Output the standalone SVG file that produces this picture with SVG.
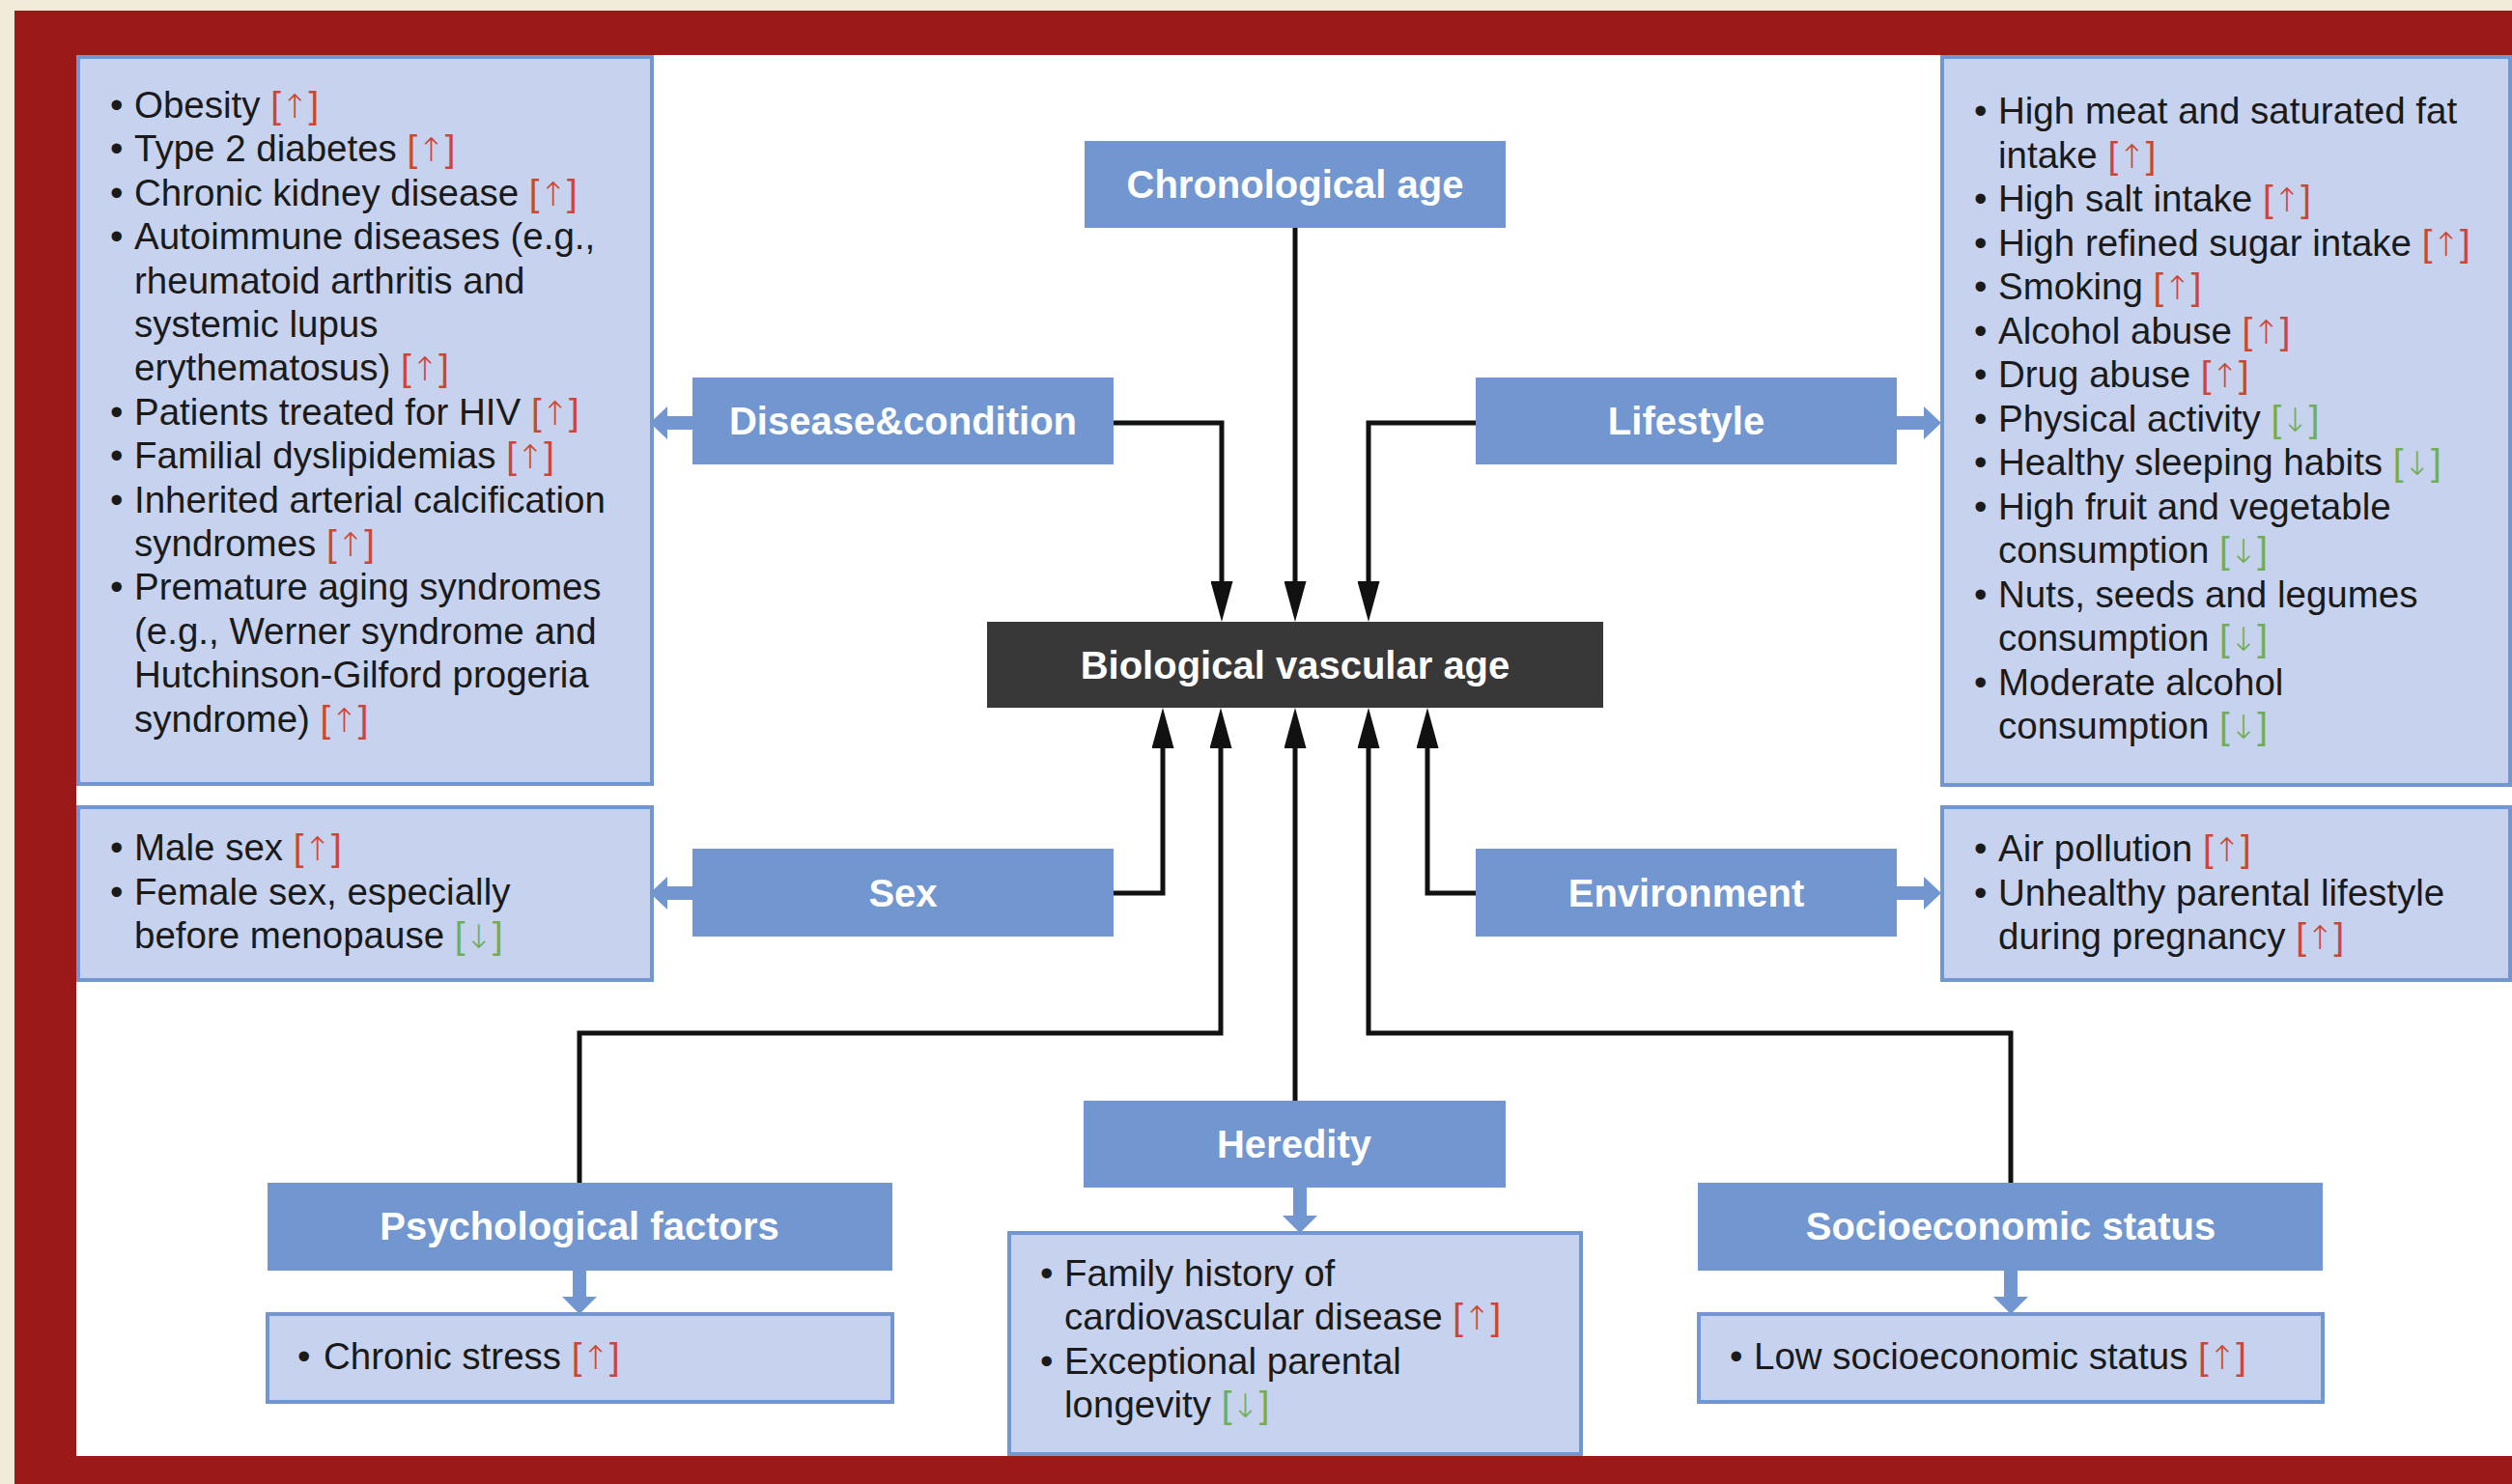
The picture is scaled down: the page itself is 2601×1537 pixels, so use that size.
<svg xmlns="http://www.w3.org/2000/svg" width="2601" height="1537" viewBox="0 0 2601 1537">
<defs>
<style>
.t{font-family:"Liberation Sans",Arial,sans-serif;font-size:38.5px;fill:#1a1a1a}
.h{font-family:"Liberation Sans",Arial,sans-serif;font-size:40px;font-weight:bold;fill:#ffffff;text-anchor:middle}
.r{fill:#cd4634}
.g{fill:#6fae55}
.ar{font-family:"DejaVu Sans",sans-serif;font-size:34px;font-weight:200}
.hdr{fill:#7196d0}
.lst{fill:#c6d2ee;stroke:#7196d0;stroke-width:4}
.bio{fill:#383838}
.ln{fill:none;stroke:#111111;stroke-width:5;marker-end:url(#ah)}
.ba{fill:#7196d0}
</style>
<marker id="ah" viewBox="0 0 42 23" refX="0" refY="11.5" markerWidth="42" markerHeight="23" markerUnits="userSpaceOnUse" orient="auto">
<path d="M0,0 L42,11.5 L0,23 Z" fill="#111111"/>
</marker>
</defs>

<g id="background">
<rect x="0" y="0" width="2601" height="1537" fill="#f3ebda"/>
<rect x="15" y="11" width="2586" height="1526" fill="#9b1a17"/>
<rect x="79" y="57" width="2522" height="1451" fill="#ffffff"/>
</g>

<g id="connectors">
<path class="ln" d="M1341,236 V602"/>
<path class="ln" d="M1153,438 H1265 V602"/>
<path class="ln" d="M1528,438 H1417 V602"/>
<path class="ln" d="M1153,925 H1204 V775"/>
<path class="ln" d="M1528,925 H1478 V775"/>
<path class="ln" d="M600,1225 V1070 H1264 V775"/>
<path class="ln" d="M1341,1140 V775"/>
<path class="ln" d="M2082,1225 V1070 H1417 V775"/>
<path class="ba" d="M718,431 H691 V421 L673,438 L691,455 V445 H718 Z"/>
<path class="ba" d="M718,918 H691 V908 L673,925 L691,942 V932 H718 Z"/>
<path class="ba" d="M1963,431 H1992 V421 L2010,438 L1992,455 V445 H1963 Z"/>
<path class="ba" d="M1963,918 H1992 V908 L2010,925 L1992,942 V932 H1963 Z"/>
<path class="ba" d="M1339,1229 V1259 H1328 L1346,1277 L1364,1259 H1353 V1229 Z"/>
<path class="ba" d="M593,1315 V1343 H582 L600,1361 L618,1343 H607 V1315 Z"/>
<path class="ba" d="M2075,1315 V1343 H2064 L2082,1361 L2100,1343 H2089 V1315 Z"/>
</g>

<g id="chronological-age">
<rect class="hdr" x="1123" y="146" width="436" height="90"/>
<text class="h" x="1341" y="205">Chronological age</text>
</g>

<g id="biological-vascular-age">
<rect class="bio" x="1022" y="644" width="638" height="89"/>
<text class="h" x="1341" y="703">Biological vascular age</text>
</g>

<g id="disease-condition">
<rect class="hdr" x="717" y="391" width="436" height="90"/>
<text class="h" x="935" y="450">Disease&amp;condition</text>
</g>

<g id="sex">
<rect class="hdr" x="717" y="879" width="436" height="91"/>
<text class="h" x="935" y="939">Sex</text>
</g>

<g id="lifestyle">
<rect class="hdr" x="1528" y="391" width="436" height="90"/>
<text class="h" x="1746" y="450">Lifestyle</text>
</g>

<g id="environment">
<rect class="hdr" x="1528" y="879" width="436" height="91"/>
<text class="h" x="1746" y="939">Environment</text>
</g>

<g id="heredity">
<rect class="hdr" x="1122" y="1140" width="437" height="90"/>
<text class="h" x="1340" y="1199">Heredity</text>
</g>

<g id="psychological-factors">
<rect class="hdr" x="277" y="1225" width="647" height="91"/>
<text class="h" x="600" y="1284">Psychological factors</text>
</g>

<g id="socioeconomic-status">
<rect class="hdr" x="1758" y="1225" width="647" height="91"/>
<text class="h" x="2082" y="1284">Socioeconomic status</text>
</g>

<g id="disease-list">
<rect class="lst" x="81" y="59" width="594" height="753"/>
<text class="t" y="122"><tspan x="114">•</tspan><tspan x="139">Obesity </tspan><tspan class="r">[<tspan class="ar">↑</tspan>]</tspan></text>
<text class="t" y="167.4"><tspan x="114">•</tspan><tspan x="139">Type 2 diabetes </tspan><tspan class="r">[<tspan class="ar">↑</tspan>]</tspan></text>
<text class="t" y="212.8"><tspan x="114">•</tspan><tspan x="139">Chronic kidney disease </tspan><tspan class="r">[<tspan class="ar">↑</tspan>]</tspan></text>
<text class="t" y="258.2"><tspan x="114">•</tspan><tspan x="139">Autoimmune diseases (e.g.,</tspan></text>
<text class="t" x="139" y="303.6">rheumatoid arthritis and</text>
<text class="t" x="139" y="349">systemic lupus</text>
<text class="t" y="394.4"><tspan x="139">erythematosus) </tspan><tspan class="r">[<tspan class="ar">↑</tspan>]</tspan></text>
<text class="t" y="439.8"><tspan x="114">•</tspan><tspan x="139">Patients treated for HIV </tspan><tspan class="r">[<tspan class="ar">↑</tspan>]</tspan></text>
<text class="t" y="485.2"><tspan x="114">•</tspan><tspan x="139">Familial dyslipidemias </tspan><tspan class="r">[<tspan class="ar">↑</tspan>]</tspan></text>
<text class="t" y="530.6"><tspan x="114">•</tspan><tspan x="139">Inherited arterial calcification</tspan></text>
<text class="t" y="576"><tspan x="139">syndromes </tspan><tspan class="r">[<tspan class="ar">↑</tspan>]</tspan></text>
<text class="t" y="621.4"><tspan x="114">•</tspan><tspan x="139">Premature aging syndromes</tspan></text>
<text class="t" x="139" y="666.8">(e.g., Werner syndrome and</text>
<text class="t" x="139" y="712.2">Hutchinson-Gilford progeria</text>
<text class="t" y="757.6"><tspan x="139">syndrome) </tspan><tspan class="r">[<tspan class="ar">↑</tspan>]</tspan></text>
</g>

<g id="sex-list">
<rect class="lst" x="81" y="836" width="594" height="179"/>
<text class="t" y="891"><tspan x="114">•</tspan><tspan x="139">Male sex </tspan><tspan class="r">[<tspan class="ar">↑</tspan>]</tspan></text>
<text class="t" y="936.5"><tspan x="114">•</tspan><tspan x="139">Female sex, especially</tspan></text>
<text class="t" y="982"><tspan x="139">before menopause </tspan><tspan class="g">[<tspan class="ar">↓</tspan>]</tspan></text>
</g>

<g id="lifestyle-list">
<rect class="lst" x="2011" y="59" width="588" height="754"/>
<text class="t" y="128"><tspan x="2044">•</tspan><tspan x="2069">High meat and saturated fat</tspan></text>
<text class="t" y="173.5"><tspan x="2069">intake </tspan><tspan class="r">[<tspan class="ar">↑</tspan>]</tspan></text>
<text class="t" y="219"><tspan x="2044">•</tspan><tspan x="2069">High salt intake </tspan><tspan class="r">[<tspan class="ar">↑</tspan>]</tspan></text>
<text class="t" y="264.5"><tspan x="2044">•</tspan><tspan x="2069">High refined sugar intake </tspan><tspan class="r">[<tspan class="ar">↑</tspan>]</tspan></text>
<text class="t" y="310"><tspan x="2044">•</tspan><tspan x="2069">Smoking </tspan><tspan class="r">[<tspan class="ar">↑</tspan>]</tspan></text>
<text class="t" y="355.5"><tspan x="2044">•</tspan><tspan x="2069">Alcohol abuse </tspan><tspan class="r">[<tspan class="ar">↑</tspan>]</tspan></text>
<text class="t" y="401"><tspan x="2044">•</tspan><tspan x="2069">Drug abuse </tspan><tspan class="r">[<tspan class="ar">↑</tspan>]</tspan></text>
<text class="t" y="446.5"><tspan x="2044">•</tspan><tspan x="2069">Physical activity </tspan><tspan class="g">[<tspan class="ar">↓</tspan>]</tspan></text>
<text class="t" y="492"><tspan x="2044">•</tspan><tspan x="2069">Healthy sleeping habits </tspan><tspan class="g">[<tspan class="ar">↓</tspan>]</tspan></text>
<text class="t" y="537.5"><tspan x="2044">•</tspan><tspan x="2069">High fruit and vegetable</tspan></text>
<text class="t" y="583"><tspan x="2069">consumption </tspan><tspan class="g">[<tspan class="ar">↓</tspan>]</tspan></text>
<text class="t" y="628.5"><tspan x="2044">•</tspan><tspan x="2069">Nuts, seeds and legumes</tspan></text>
<text class="t" y="674"><tspan x="2069">consumption </tspan><tspan class="g">[<tspan class="ar">↓</tspan>]</tspan></text>
<text class="t" y="719.5"><tspan x="2044">•</tspan><tspan x="2069">Moderate alcohol</tspan></text>
<text class="t" y="765"><tspan x="2069">consumption </tspan><tspan class="g">[<tspan class="ar">↓</tspan>]</tspan></text>
</g>

<g id="environment-list">
<rect class="lst" x="2011" y="836" width="588" height="179"/>
<text class="t" y="892"><tspan x="2044">•</tspan><tspan x="2069">Air pollution </tspan><tspan class="r">[<tspan class="ar">↑</tspan>]</tspan></text>
<text class="t" y="937.5"><tspan x="2044">•</tspan><tspan x="2069">Unhealthy parental lifestyle</tspan></text>
<text class="t" y="983"><tspan x="2069">during pregnancy </tspan><tspan class="r">[<tspan class="ar">↑</tspan>]</tspan></text>
</g>

<g id="psychological-list">
<rect class="lst" x="277" y="1361" width="647" height="91"/>
<text class="t" y="1418"><tspan x="308">•</tspan><tspan x="335">Chronic stress </tspan><tspan class="r">[<tspan class="ar">↑</tspan>]</tspan></text>
</g>

<g id="heredity-list">
<rect class="lst" x="1045" y="1277" width="592" height="229"/>
<text class="t" y="1332"><tspan x="1077">•</tspan><tspan x="1102">Family history of</tspan></text>
<text class="t" y="1377"><tspan x="1102">cardiovascular disease </tspan><tspan class="r">[<tspan class="ar">↑</tspan>]</tspan></text>
<text class="t" y="1423"><tspan x="1077">•</tspan><tspan x="1102">Exceptional parental</tspan></text>
<text class="t" y="1468"><tspan x="1102">longevity </tspan><tspan class="g">[<tspan class="ar">↓</tspan>]</tspan></text>
</g>

<g id="socioeconomic-list">
<rect class="lst" x="1759" y="1361" width="646" height="91"/>
<text class="t" y="1418"><tspan x="1791">•</tspan><tspan x="1816">Low socioeconomic status </tspan><tspan class="r">[<tspan class="ar">↑</tspan>]</tspan></text>
</g>
</svg>
